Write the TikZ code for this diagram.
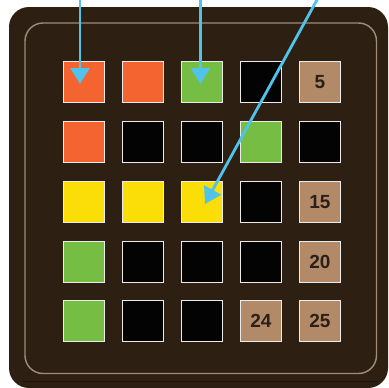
\documentclass[tikz,border=0pt]{standalone}
\usepackage{fontspec}
\setmainfont{Liberation Sans}
\usetikzlibrary{arrows.meta}
\definecolor{bgdark}{HTML}{2D1F12}
\definecolor{bgline}{HTML}{1E150B}
\definecolor{rim}{HTML}{A08C78}
\definecolor{cor}{HTML}{F36430}
\definecolor{cgr}{HTML}{76BD43}
\definecolor{cye}{HTML}{FBDD07}
\definecolor{cbk}{HTML}{030303}
\definecolor{ctn}{HTML}{B38A68}
\definecolor{numtxt}{HTML}{2A2018}
\definecolor{arrowc}{HTML}{4FC3EA}
\tikzset{
  cell/.style={draw=white!92!black, line width=1.2pt, minimum size=41pt, inner sep=0pt, font=\fontsize{19}{19}\selectfont\bfseries, text=numtxt},
  pointer/.style={draw=arrowc, line width=2.8pt, -{Triangle[length=16pt,width=19pt]}}
}
\begin{document}
\begin{tikzpicture}[x=1pt,y=-1pt]
\useasboundingbox (0,0) rectangle (389,388);
\fill[white] (0,0) rectangle (389,388);
\fill[bgdark, rounded corners=20pt] (9,7) rectangle (388,388);
\draw[bgline, line width=1pt] (22,381) -- (378,381);
\draw[rim, line width=1.4pt, rounded corners=18pt] (25,23) rectangle (376.5,373.5);
% row 1
\node[cell, fill=cor] (c11) at (84,82) {};
\node[cell, fill=cor] (c12) at (143,82) {};
\node[cell, fill=cgr] (c13) at (202,82) {};
\node[cell, fill=cbk] (c14) at (261,82) {};
\node[cell, fill=ctn] (c15) at (320,82) {5};
% row 2
\node[cell, fill=cor] (c21) at (84,142) {};
\node[cell, fill=cbk] (c22) at (143,142) {};
\node[cell, fill=cbk] (c23) at (202,142) {};
\node[cell, fill=cgr] (c24) at (261,142) {};
\node[cell, fill=cbk] (c25) at (320,142) {};
% row 3
\node[cell, fill=cye] (c31) at (84,202) {};
\node[cell, fill=cye] (c32) at (143,202) {};
\node[cell, fill=cye] (c33) at (202,202) {};
\node[cell, fill=cbk] (c34) at (261,202) {};
\node[cell, fill=ctn] (c35) at (320,202) {15};
% row 4
\node[cell, fill=cgr] (c41) at (84,262) {};
\node[cell, fill=cbk] (c42) at (143,262) {};
\node[cell, fill=cbk] (c43) at (202,262) {};
\node[cell, fill=cbk] (c44) at (261,262) {};
\node[cell, fill=ctn] (c45) at (320,262) {20};
% row 5
\node[cell, fill=cgr] (c51) at (84,321) {};
\node[cell, fill=cbk] (c52) at (143,321) {};
\node[cell, fill=cbk] (c53) at (202,321) {};
\node[cell, fill=ctn] (c54) at (261,321) {24};
\node[cell, fill=ctn] (c55) at (320,321) {25};
% arrows
\coordinate (s1) at (80,-2);
\coordinate (t1) at (80,84);
\coordinate (s2) at (200.5,-2);
\coordinate (t2) at (200.5,84);
\coordinate (s3) at (318,-2);
\coordinate (t3) at (205,204);
\draw[pointer] (s1) -- (t1);
\draw[pointer] (s2) -- (t2);
\draw[pointer] (s3) -- (t3);
\end{tikzpicture}
\end{document}
